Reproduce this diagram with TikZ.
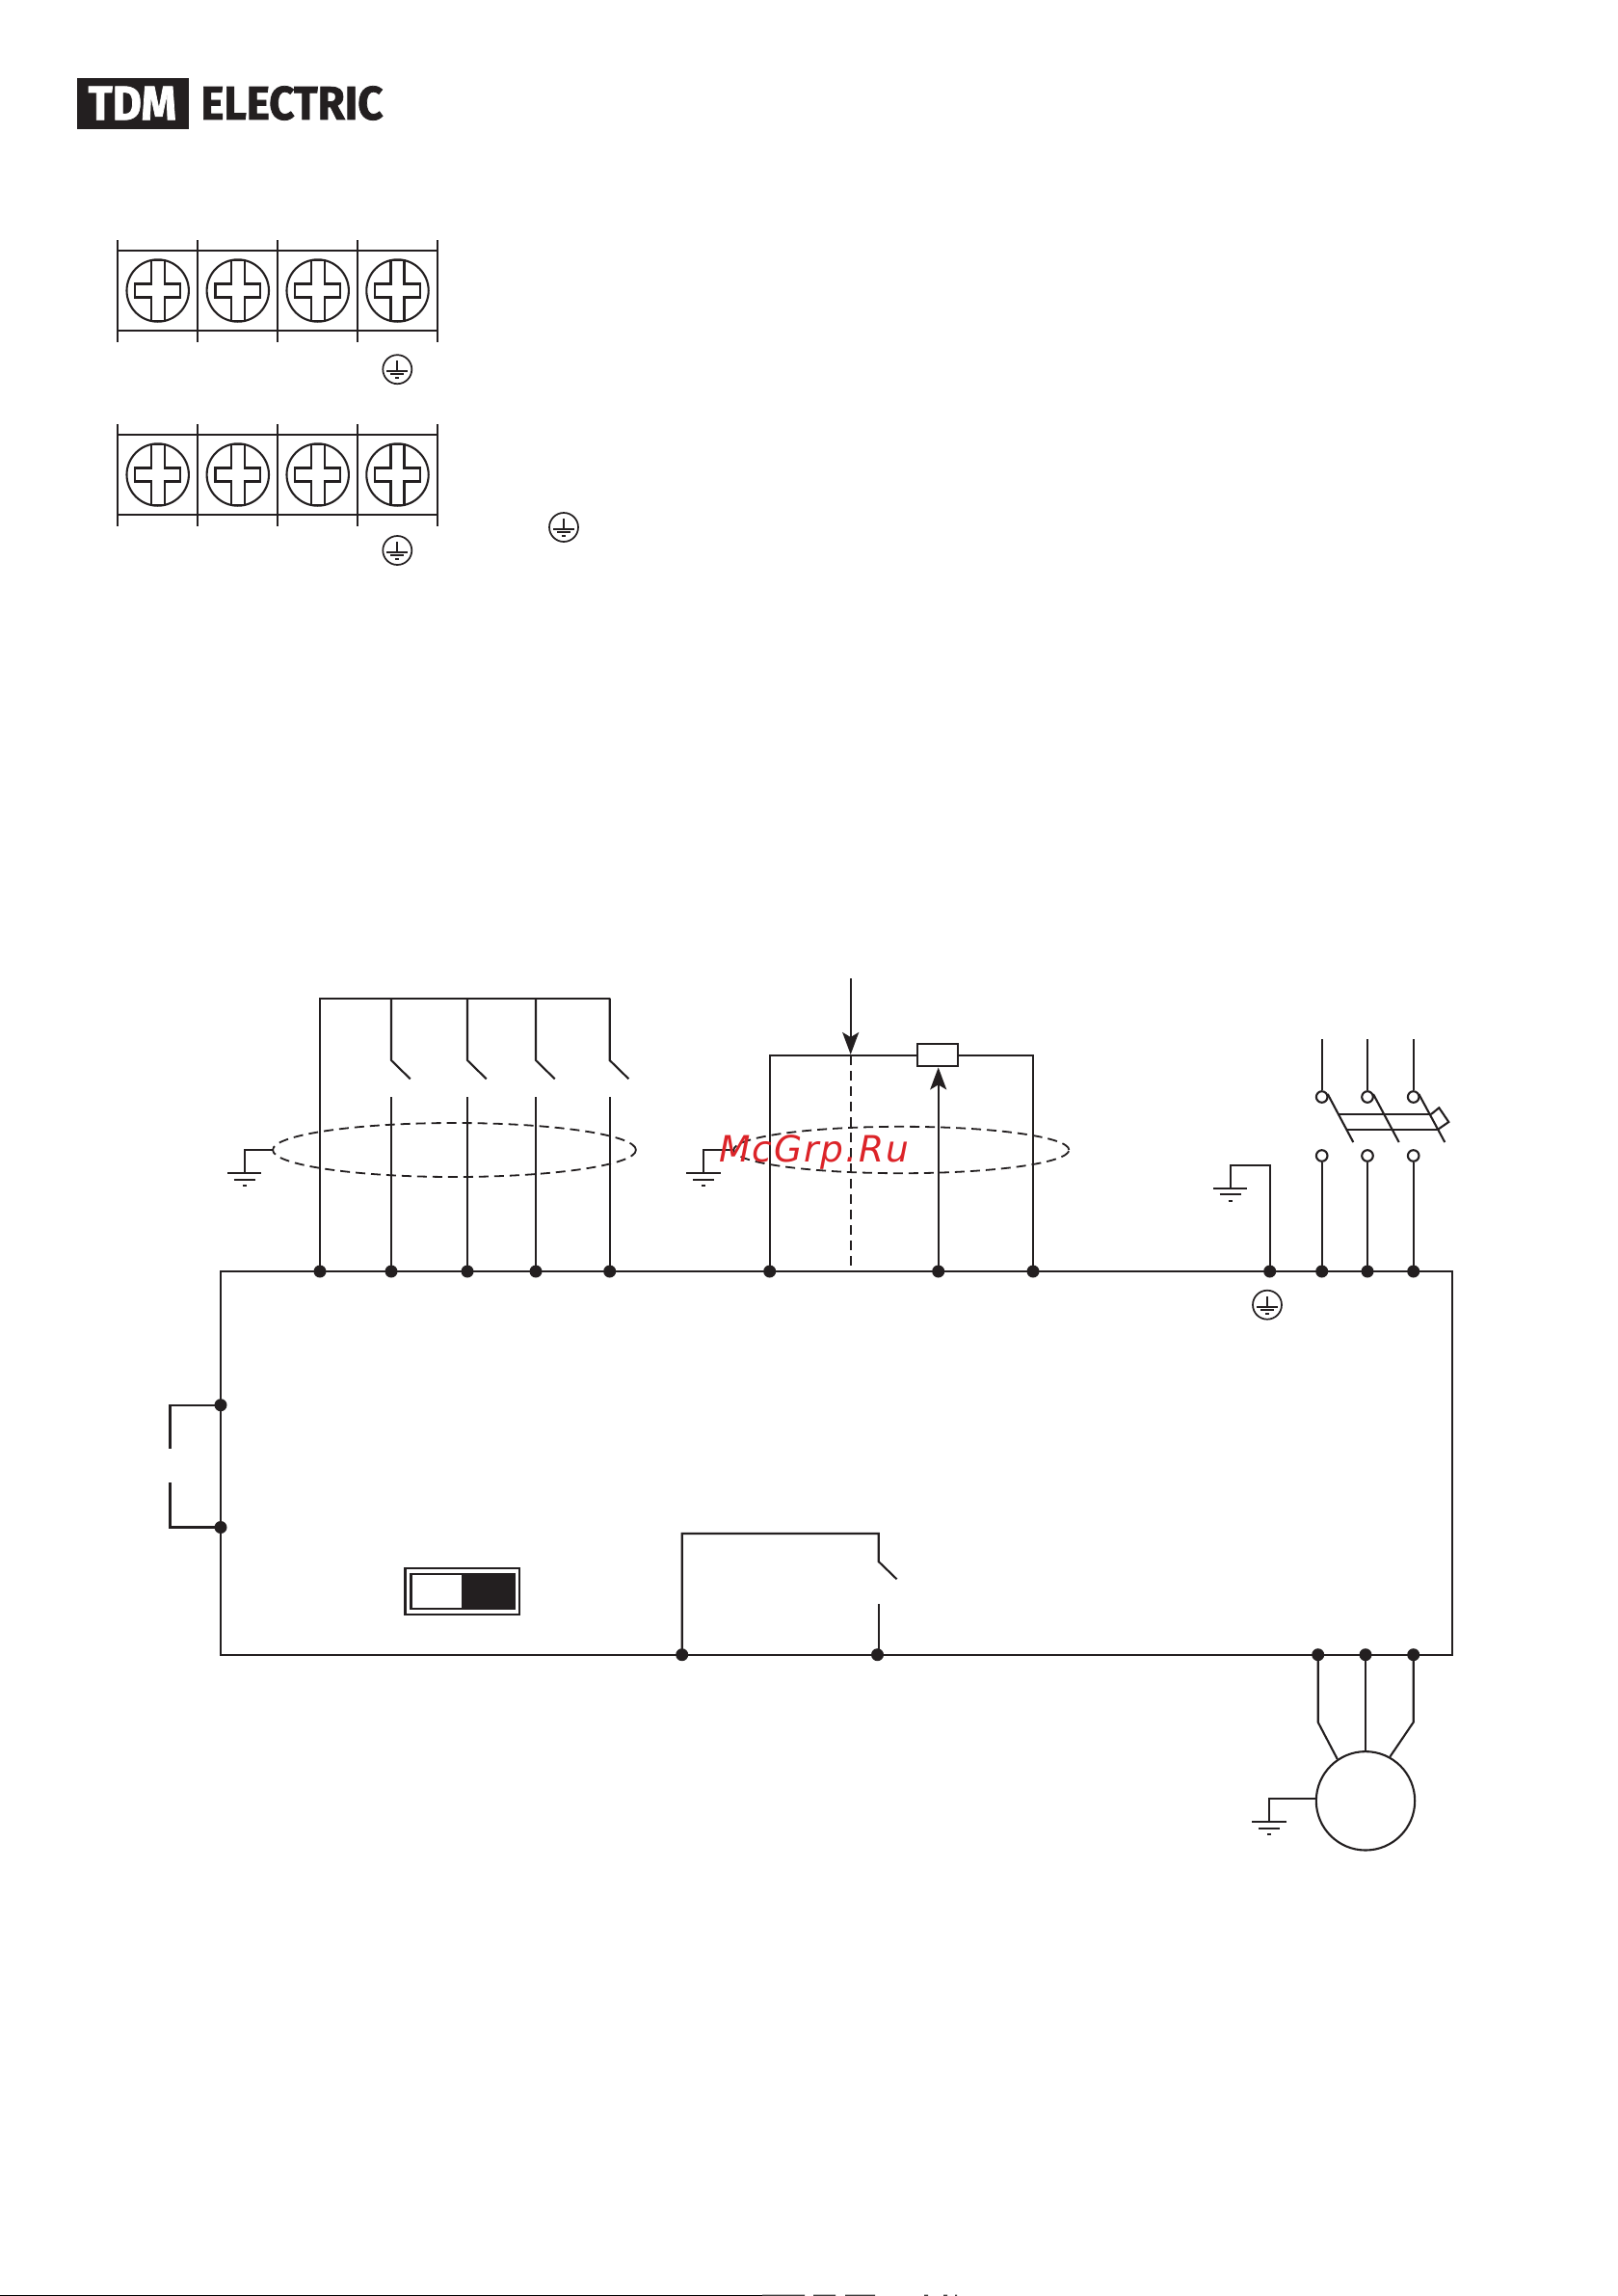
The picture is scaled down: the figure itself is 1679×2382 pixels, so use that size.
\documentclass[tikz,border=0pt]{standalone}
\usepackage{fontspec}
\usepackage{graphicx}
\setmainfont{Liberation Sans}
\newfontfamily\logofont[BoldFeatures={FakeBold=1.6}]{Fira Sans}
\newfontfamily\markfont[LetterSpace=5]{DejaVu Sans}
\usetikzlibrary{arrows.meta}
\definecolor{ink}{HTML}{231F20}
\definecolor{markred}{HTML}{DC2328}
\tikzset{
  wire/.style={draw=ink,line width=1.05pt,line cap=butt,line join=miter},
  thin wire/.style={draw=ink,line width=0.85pt},
  dashwire/.style={draw=ink,line width=0.9pt,dash pattern=on 5pt off 3pt},
  dotnode/.style={circle,fill=ink,draw=none,inner sep=0pt,minimum size=6.5pt},
  ringnode/.style={circle,fill=white,draw=ink,line width=1.05pt,inner sep=0pt,minimum size=5.8pt},
  tiparrow/.style={-{Stealth[length=11.5pt,width=8.5pt,inset=2.5pt,color=ink]}}
}
% earth symbol with ring
\newcommand{\peearth}[2]{%
  \begin{scope}[shift={(#1,#2)}]
    \draw[thin wire] (0,0) circle[radius=7.5pt];
    \draw[thin wire] (0,-9) -- (0,2) (-11,2) -- (11,2) (-7,5) -- (7,5);
    \draw[draw=ink,line width=1pt] (-2,9) -- (2,9);
  \end{scope}}
% plain ground symbol, (x,y) is the top bar's centre
\newcommand{\gndbars}[2]{%
  \begin{scope}[shift={(#1,#2)}]
    \draw[wire] (-17.7,0) -- (17.7,0);
    \draw[wire] (-11,6.7) -- (11,6.7);
    \draw[draw=ink,line width=1pt] (-2,13) -- (2,13);
  \end{scope}}
% terminal screw
\newcommand{\screw}[2]{%
  \begin{scope}[shift={(#1,#2)}]
    \draw[wire] (0,0) circle[radius=16.1pt];
    \draw[wire,line join=miter] (-7,-31.5) -- (-7,-7) -- (-23.3,-7) -- (-23.3,7) -- (-7,7) -- (-7,31.5)
      -- (7,31.5) -- (7,7) -- (23.3,7) -- (23.3,-7) -- (7,-7) -- (7,-31.5) -- cycle;
  \end{scope}}
\newcommand{\termblock}[4]{% top tick, top rail, bottom rail, bottom tick ; screws at mid
  \foreach \xx in {122,205,288,371,454}{\draw[wire] (\xx,#1) -- (\xx,#4);}
  \draw[wire] (122,#2) -- (454,#2) (122,#3) -- (454,#3);
  \pgfmathsetmacro{\cyy}{(#2+#3)/2}
  \foreach \xx in {163.7,246.8,329.7,412.5}{\screw{\xx}{\cyy}}}
\begin{document}
\begin{tikzpicture}[x=0.5pt,y=-0.5pt]
\useasboundingbox (0,0) rectangle (1679,2382);
\fill[white] (0,0) rectangle (1679,2382);

% logo
\node[fill=ink,minimum width=58pt,minimum height=26.8pt,inner sep=0pt,anchor=north west] (logobox) at (80,80.4) {};
\node[inner sep=0pt] (logotdm) at (137.3,107) {\resizebox{45.7pt}{17.3pt}{\color{white}\logofont\bfseries TDM}};
\node[inner sep=0pt,anchor=west] (logoel) at (208,107) {\resizebox{94.5pt}{17.3pt}{\color{ink}\logofont\bfseries ELECTRIC}};

% terminal blocks
\termblock{249.3}{260}{343}{354.6}
\termblock{440.4}{451}{534}{545.7}
\peearth{412.3}{383.2}
\peearth{412.3}{571}
\peearth{585}{547}
\peearth{1315}{1353.7}

% main box
\draw[wire] (229,1319) rectangle (1507,1716.7);

% digital inputs
\coordinate (busA) at (332,1035.7);
\coordinate (busB) at (632.7,1035.7);
\foreach \n/\xx in {a/332,b/406,c/485,d/556,e/632.7}{\node[dotnode] (t\n) at (\xx,1319) {};}
\draw[wire] (ta.center) -- (busA) -- (busB);
\foreach \n/\xx in {b/406,c/485,d/556,e/632.7}{
  \draw[wire] (\xx,1035.7) -- (\xx,1100) -- ++(19.7,19.3);
  \draw[wire] (\xx,1138) -- (t\n.center);
}
\draw[dashwire] (471.5,1193) ellipse[x radius=94.2pt,y radius=14pt];
\draw[wire] (283,1192.7) -- (253.7,1192.7) -- (253.7,1217);
\gndbars{253.7}{1217}

% analog input
\node[dotnode] (ta1) at (798.7,1319) {};
\node[dotnode] (ta2) at (973.7,1319) {};
\node[dotnode] (ta3) at (1072,1319) {};
\node[draw=ink,line width=1.05pt,fill=white,minimum width=21.3pt,minimum height=11.7pt,inner sep=0pt] (pot) at (973,1094.4) {};
\draw[wire] (ta1.center) -- (798.7,1095) -- (pot.west |- 798.7,1095);
\draw[wire] (pot.east |- 1072,1095) -- (1072,1095) -- (ta3.center);
\draw[wire,tiparrow] (ta2.center) -- (973.7,1107.4);
\coordinate (aintop) at (882.7,1015);
\coordinate (aintip) at (882.7,1094);
\draw[wire,tiparrow] (aintop) -- (aintip);
\draw[dashwire] (882.7,1095) -- (882.7,1319);
\draw[dashwire] (935.3,1193) ellipse[x radius=87pt,y radius=12.1pt];
\draw[wire] (761.7,1192.7) -- (730,1192.7) -- (730,1217);
\gndbars{730}{1217}

% mains side
\node[dotnode] (tg) at (1317.7,1319) {};
\foreach \n/\xx in {l/1371.7,m/1419,r/1466.7}{
  \node[dotnode] (p\n) at (\xx,1319) {};
  \node[ringnode] (u\n) at (\xx,1138) {};
  \node[ringnode] (v\n) at (\xx,1199) {};
  \draw[wire] (\xx,1078.3) -- (u\n.north);
  \draw[wire] (v\n.south) -- (p\n.center);
}
\draw[wire] (1377.7,1135) -- (1404.3,1185);
\draw[wire] (1425,1135) -- (1451.7,1185);
\draw[wire] (1472.3,1135) -- (1499.3,1185);
\draw[wire] (1388.3,1156) -- (1485,1156);
\draw[wire] (1396.7,1172) -- (1491.7,1172);
\draw[wire] (1485,1156) -- (1493.3,1149.3) -- (1503.3,1164) -- (1491.7,1172);
\draw[wire] (tg.center) -- (1317.7,1209) -- (1276.7,1209) -- (1276.7,1232.7);
\gndbars{1276.7}{1232.7}

% left loop
\node[dotnode] (la) at (229,1457.7) {};
\node[dotnode] (lb) at (229,1584.5) {};
\draw[wire] (la.center) -- (176.5,1457.7) -- (176.5,1502.7);
\draw[wire] (lb.center) -- (176.5,1584.5) -- (176.5,1537.7);

% DIP switch
\node[draw=ink,line width=1.05pt,minimum width=59.4pt,minimum height=23.7pt,inner sep=0pt] (dipouter) at (479.9,1651) {};
\draw[wire,fill=white] (426.5,1633) rectangle (534,1668.7);
\fill[ink] (479,1633) rectangle (534,1668.7);

% relay
\node[dotnode] (ra) at (707.7,1716.7) {};
\node[dotnode] (rb) at (910.5,1716.7) {};
\draw[wire] (ra.center) -- (707.7,1591) -- (911.7,1591) -- (911.7,1620) -- (930.6,1638.3);
\draw[wire] (911.7,1664) -- (911.7,1716.7);

% motor
\node[dotnode] (mu) at (1367.7,1716.7) {};
\node[dotnode] (mv) at (1417,1716.7) {};
\node[dotnode] (mw) at (1466.7,1716.7) {};
\node[draw=ink,line width=1.05pt,circle,minimum size=51.2pt,inner sep=0pt] (motor) at (1417,1868.3) {};
\draw[wire] (mu.center) -- (1367.7,1786.7) -- (motor.124);
\draw[wire] (mv.center) -- (motor.north);
\draw[wire] (mw.center) -- (1466.7,1786.7) -- (motor.61);
\draw[wire] (motor.west |- 1317,1865.7) -- (1317,1865.7) -- (1317,1890);
\gndbars{1317}{1890}

% watermark
\node[inner sep=0pt,anchor=base west,text=markred] (mark) at (746,1205) {\fontsize{18.8pt}{20pt}\markfont\itshape McGrp.Ru};

% page edge
\fill[black] (0,2380.7) rectangle (791,2382);
\fill[black!75] (791,2380.7) rectangle (835,2382)
  (844,2380.7) rectangle (867,2382)
  (877,2380.7) rectangle (908,2382)
  (959,2380.7) rectangle (963,2382)
  (979,2380.7) rectangle (983,2382)
  (991,2380.7) rectangle (993,2382);
\end{tikzpicture}
\end{document}
